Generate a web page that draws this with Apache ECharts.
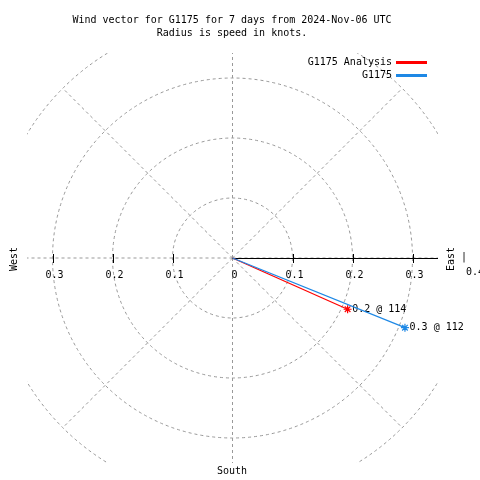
<!DOCTYPE html>
<html>
<head>
<meta charset="utf-8">
<script src="https://cdn.jsdelivr.net/npm/echarts@6/dist/echarts.min.js"></script>
<style>html,body{margin:0;padding:0;background:#fff;}#c{width:480px;height:480px;}</style>
</head>
<body>
<div id="c"></div>
<script>
// ---- data ----
const seriesNames = ['G1175 Analysis', 'G1175'];
const speeds = [0.21, 0.31];          // knots (plotted radius)
const directions = [114, 112];        // degrees (compass)
const speedLabels = ['0.2', '0.3'];
const ringRadii = [0.1, 0.2, 0.3, 0.4];
const spokeAngles = [0, 45, 90, 135, 180, 225, 270, 315];
const tickValues = [-0.3, -0.2, -0.1, 0, 0.1, 0.2, 0.3];
const tickLabels = ['0.3', '0.2', '0.1', '0', '0.1', '0.2', '0.3'];
const titleLines = ['Wind vector for G1175 for 7 days from 2024-Nov-06 UTC', 'Radius is speed in knots.'];

// ---- chart ----
const FONT = 'DejaVu Sans Mono';
const FS = 10;
const GRID_COLOR = '#999999';
const DASH = [3, 3];
const colors = ['#ff0000', '#1e88e5'];
const XR = 0.3425, YR = 0.3417;
const star = 'path://M5,0L5,10M0,5L10,5M1.5,1.5L8.5,8.5M1.5,8.5L8.5,1.5';

const chart = echarts.init(document.getElementById('c'), null, {renderer: 'canvas'});

const vectorSeries = seriesNames.map((name, i) => {
  const rad = directions[i] * Math.PI / 180;
  const x = speeds[i] * Math.sin(rad);
  const y = speeds[i] * Math.cos(rad);
  return {
    type: 'line',
    name: name,
    z: 5 + i,
    color: colors[i],
    lineStyle: {color: colors[i], width: 1.2},
    itemStyle: {color: colors[i], borderColor: colors[i], borderWidth: 1.2},
    symbolSize: 8,
    data: [
      {value: [0, 0], symbol: 'none'},
      {value: [x, y], symbol: star,
       label: {show: true, position: 'right', distance: 0,
               formatter: speedLabels[i] + ' @ ' + directions[i],
               fontFamily: FONT, fontSize: FS, color: '#000'}}
    ]
  };
});

const option = {
  animation: false,
  backgroundColor: '#fff',
  title: {
    text: titleLines.join('\n'),
    left: 232, top: 14, textAlign: 'center', padding: 0,
    textStyle: {fontFamily: FONT, fontSize: FS, fontWeight: 'normal', color: '#000', lineHeight: 13}
  },
  legend: {
    orient: 'vertical', right: 53, top: 56, align: 'right', padding: 0,
    itemWidth: 29, itemHeight: 1, itemGap: 0,
    data: seriesNames.map(n => ({name: n, icon: 'rect'})),
    textStyle: {fontFamily: FONT, fontSize: FS, color: '#000', lineHeight: 13}
  },
  grid: {left: 27, top: 53, width: 411, height: 410},
  xAxis: {type: 'value', min: -XR, max: XR, show: false},
  yAxis: {type: 'value', min: -YR, max: YR, show: false},
  series: [
    {
      type: 'custom', name: 'rings', clip: true, silent: true, z: 1,
      data: ringRadii.map(r => [r, 0]),
      renderItem: function (params, api) {
        const r = api.value(0);
        const c = api.coord([0, 0]);
        const e = api.coord([r, 0]);
        return {type: 'circle', shape: {cx: c[0], cy: c[1], r: e[0] - c[0]},
          style: {fill: null, stroke: GRID_COLOR, lineWidth: 1, lineDash: DASH}};
      }
    },
    {
      type: 'custom', name: 'spokes', clip: true, silent: true, z: 1,
      data: spokeAngles.map(a => [a, 0]),
      renderItem: function (params, api) {
        const a = api.value(0) * Math.PI / 180;
        const R = ringRadii[ringRadii.length - 1];
        const c = api.coord([0, 0]);
        const e = api.coord([R * Math.cos(a), R * Math.sin(a)]);
        return {type: 'line', shape: {x1: c[0], y1: c[1], x2: e[0], y2: e[1]},
          style: {stroke: GRID_COLOR, lineWidth: 1, lineDash: DASH}};
      }
    },
    {
      type: 'custom', name: 'raxis', clip: true, silent: true, z: 3,
      data: [[0, 0]],
      renderItem: function (params, api) {
        const c = api.coord([0, 0]);
        const e = api.coord([XR, 0]);
        return {type: 'line', shape: {x1: c[0], y1: c[1] + 0.5, x2: e[0], y2: e[1] + 0.5},
          style: {stroke: '#000', lineWidth: 1}};
      }
    },
    {
      type: 'custom', name: 'ticks', clip: false, silent: true, z: 4,
      data: tickValues.map((v, i) => [v, 0, i]),
      renderItem: function (params, api) {
        const v = api.value(0);
        const i = api.value(2);
        const p = api.coord([v, 0]);
        const children = [];
        if (v !== 0) {
          children.push({type: 'line', shape: {x1: Math.round(p[0]) + 0.5, y1: p[1] - 4, x2: Math.round(p[0]) + 0.5, y2: p[1] + 5},
            style: {stroke: '#000', lineWidth: 1}});
        }
        children.push({type: 'text', x: p[0] + 2, y: p[1] + 17,
          style: {text: tickLabels[i], font: FS + 'px ' + FONT, fill: '#000', align: 'center', verticalAlign: 'middle'}});
        return {type: 'group', children: children};
      }
    }
  ].concat(vectorSeries),
  graphic: [
    {type: 'text', x: 14, y: 259, rotation: Math.PI / 2,
      style: {text: 'West', font: FS + 'px ' + FONT, fill: '#000', align: 'center', verticalAlign: 'middle'}},
    {type: 'text', x: 451, y: 259, rotation: Math.PI / 2,
      style: {text: 'East', font: FS + 'px ' + FONT, fill: '#000', align: 'center', verticalAlign: 'middle'}},
    {type: 'text', x: 232, y: 471,
      style: {text: 'South', font: FS + 'px ' + FONT, fill: '#000', align: 'center', verticalAlign: 'middle'}},
    {type: 'text', x: 464, y: 257,
      style: {text: '|', font: FS + 'px ' + FONT, fill: '#000', align: 'center', verticalAlign: 'middle'}},
    {type: 'text', x: 466, y: 272,
      style: {text: '0.4', font: FS + 'px ' + FONT, fill: '#000', align: 'left', verticalAlign: 'middle'}}
  ]
};
chart.setOption(option);
</script>
</body>
</html>
